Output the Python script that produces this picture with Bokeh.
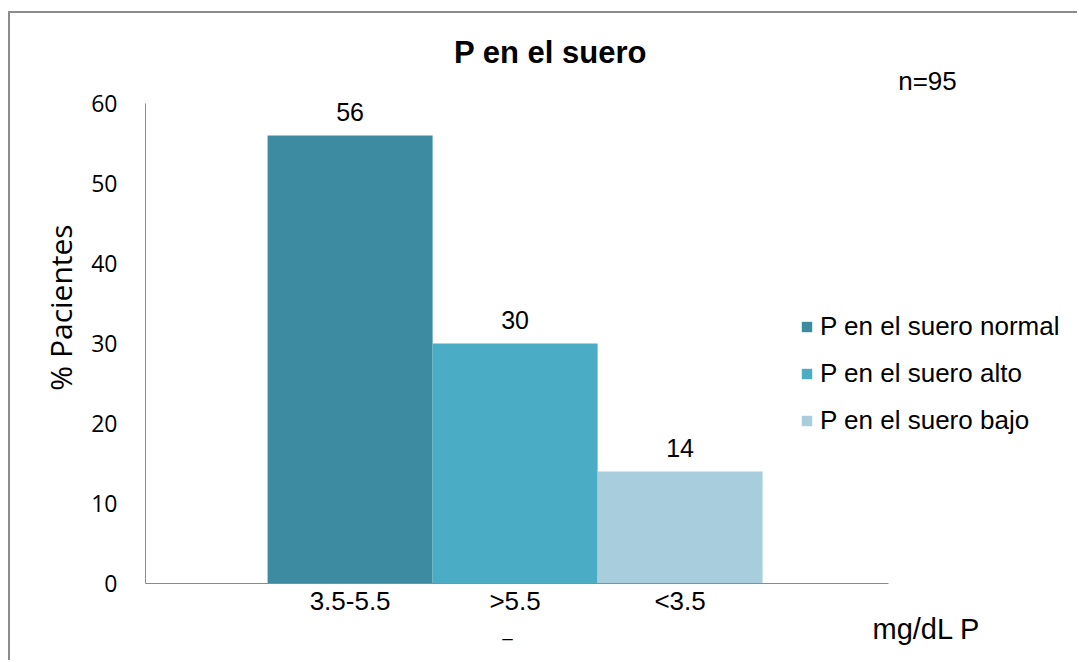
import math
from bokeh.plotting import figure
from bokeh.models import (Range1d, Label, LabelSet, Legend, LegendItem,
                          ColumnDataSource, FixedTicker)
from bokeh.core.properties import value
from bokeh.embed import file_html
from bokeh.resources import INLINE

# ---- data ----
categories = ["3.5-5.5", ">5.5", "<3.5"]
percentages = [56, 30, 14]
series_names = ["P en el suero normal", "P en el suero alto", "P en el suero bajo"]
colors = ["#3D8BA1", "#4BACC6", "#A8CEDD"]
y_ticks = [0, 10, 20, 30, 40, 50, 60]
title_text = "P en el suero"
n_text = "n=95"
x_label = "mg/dL P"
y_label = "% Pacientes"

positions = list(range(len(categories)))

src = ColumnDataSource(dict(
    x=positions,
    val=percentages,
    color=colors,
    series=series_names,
    label=[str(v) for v in percentages],
))

# ---- layout constants (page pixels) ----
W, H = 1069, 649          # canvas size (page offset 10, 13)
PX0, PY0 = 10, 13         # canvas top-left on the page
X_PX = 165.0              # px per category unit
Y_PX = 8.0                # px per percent
X0_PAGE = 349.6           # page x of first category centre
Y0_PAGE = 583.0           # page y of value 0

x_start = (PX0 - X0_PAGE) / X_PX
x_end = (PX0 + W - X0_PAGE) / X_PX
y_start = (Y0_PAGE - (PY0 + H)) / Y_PX
y_end = (Y0_PAGE - PY0) / Y_PX

axis_left = (145 - X0_PAGE) / X_PX
axis_right = (888 - X0_PAGE) / X_PX

p = figure(
    x_range=Range1d(x_start, x_end),
    y_range=Range1d(y_start, y_end),
    width=W, height=H,
    output_backend="svg", toolbar_location=None, title=None,
    min_border_left=0, min_border_right=0, min_border_top=0, min_border_bottom=0,
)
p.margin = (11, 0, 0, 8)
p.styles = {"border-left": "2px solid #8c8c8c", "border-top": "2px solid #8c8c8c"}
p.outline_line_color = None
p.grid.visible = False
p.background_fill_color = "white"
p.border_fill_color = "white"

r = p.vbar(x="x", top="val", width=1.0, fill_color="color", line_color=None, source=src)

# axes
for ax in (p.xaxis[0], p.yaxis[0]):
    ax.axis_line_color = "#8c8c8c"
    ax.axis_line_width = 1
    ax.major_tick_line_color = None
    ax.minor_tick_line_color = None
    ax.major_tick_out = 0
    ax.major_tick_in = 0
    ax.major_label_text_color = "#000000"

p.yaxis.fixed_location = axis_left
p.yaxis.bounds = (y_ticks[0], y_ticks[-1])
p.yaxis.ticker = FixedTicker(ticks=y_ticks)
p.yaxis.major_label_text_font = "Open Sans"
p.yaxis.major_label_text_font_size = "23px"
p.yaxis.major_label_standoff = 28

p.xaxis.fixed_location = 0
p.xaxis.bounds = (axis_left, axis_right)
p.xaxis.ticker = FixedTicker(ticks=positions)
p.xaxis.major_label_overrides = {pos: cat for pos, cat in zip(positions, categories)}
p.xaxis.major_label_text_font = "Liberation Sans"
p.xaxis.major_label_text_font_size = "26px"
p.xaxis.major_label_standoff = 2

# data labels
labels = LabelSet(x="x", y="val", text="label", source=src, text_align="center",
                  text_baseline="alphabetic", y_offset=15, text_font=value("Liberation Sans"),
                  text_font_size=value("25px"), text_color="#000000")
p.add_layout(labels)

# legend
items = [LegendItem(label=series_names[i], renderers=[r], index=i) for i in range(len(categories))]
legend = Legend(items=items, location=(800 - PX0, PY0 + H - 436), padding=0, margin=0,
                border_line_color=None, background_fill_alpha=0,
                glyph_width=13, glyph_height=13, label_height=25, spacing=16,
                label_standoff=7, label_text_font="Liberation Sans",
                label_text_font_size="26px", label_text_baseline="middle",
                label_text_color="#000000")
p.add_layout(legend)

def page_label(text, x, y, **kw):
    lab = Label(x=x - PX0, y=PY0 + H - y, x_units="screen", y_units="screen", text=text,
                text_color="#000000", **kw)
    p.add_layout(lab)

page_label(title_text, 550, 52, text_align="center", text_baseline="middle",
           text_font="Liberation Sans", text_font_size="31px", text_font_style="bold")
page_label(n_text, 927, 80, text_align="center", text_baseline="middle",
           text_font="Liberation Sans", text_font_size="26px")
page_label(x_label, 926, 628, text_align="center", text_baseline="alphabetic",
           text_font="Liberation Sans", text_font_size="29px")
page_label("_", 507, 629, text_align="center", text_baseline="alphabetic",
           text_font="Liberation Sans", text_font_size="18px")
page_label(y_label, 60, 307, text_align="center", text_baseline="middle", angle=math.pi / 2,
           text_font="Open Sans", text_font_size="30px")

open("out.html", "w").write(file_html(p, INLINE))
